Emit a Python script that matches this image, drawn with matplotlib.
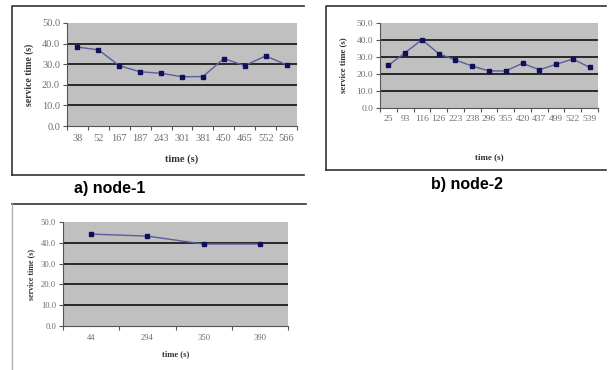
import matplotlib.pyplot as plt
from matplotlib.lines import Line2D

W, H = 616, 370

node1_t = ["38", "52", "167", "187", "243", "301", "381", "450", "465", "552", "566"]
node1_s = [38.3, 37.0, 29.3, 26.3, 25.6, 23.9, 24.0, 32.7, 29.3, 34.0, 29.7]

node2_t = ["25", "93", "116", "126", "223", "238", "296", "355", "420", "437", "499", "522", "539"]
node2_s = [25.1, 32.5, 40.2, 32.0, 28.2, 24.7, 21.8, 21.8, 26.3, 22.5, 25.7, 28.8, 23.9]

node3_t = ["44", "294", "350", "390"]
node3_s = [44.2, 43.2, 39.4, 39.4]

yticks = [0, 10, 20, 30, 40, 50]

serif = "Liberation Serif"
tick_col = "#6e6e6e"


def box(l, t, r, b):
    return [l / W, 1 - b / H, (r - l) / W, (b - t) / H]


def fline(fig, xs, ys, color="#333333", lw=1.2):
    fig.add_artist(Line2D([x / W for x in xs], [1 - y / H for y in ys],
                          color=color, lw=lw))


def panel(fig, rect, labels, values, fs, lpad):
    ax = fig.add_axes(rect)
    n = len(labels)
    ax.set_facecolor("#c0c0c0")
    ax.plot(range(n), values, color="#5c5ca0", lw=1.0, marker="s",
            markersize=2.2, markerfacecolor="#10105a", markeredgecolor="#10105a",
            zorder=3)
    ax.set_xlim(-0.5, n - 0.5)
    ax.set_ylim(0, 50)
    ax.set_yticks(yticks)
    ax.set_yticklabels(["%.1f" % v for v in yticks], fontfamily=serif,
                       fontsize=fs, color=tick_col)
    for v in yticks[1:-1]:
        ax.axhline(v, color="#282828", lw=1.4, zorder=2)
    ax.set_xticks(range(n))
    ax.set_xticklabels(labels, fontfamily=serif, fontsize=fs, color=tick_col)
    ax.set_xticks([k - 0.5 for k in range(n + 1)], minor=True)
    ax.tick_params(axis="x", which="major", length=0, pad=6)
    ax.tick_params(axis="x", which="minor", length=3, direction="out",
                   color="#555555", width=0.8)
    ax.tick_params(axis="y", length=3, direction="out", color="#555555",
                   width=0.8, pad=2)
    for s in ["top", "right"]:
        ax.spines[s].set_visible(False)
    for s in ["left", "bottom"]:
        ax.spines[s].set_color("#555555")
        ax.spines[s].set_linewidth(0.8)
    ax.set_ylabel("service time (s)", fontfamily=serif, fontweight="bold",
                  fontsize=fs - 0.5, color="#333333", labelpad=lpad)
    return ax


fig = plt.figure(figsize=(W / 100, H / 100), dpi=100)

# panel frames
fline(fig, [12, 12, 304], [175, 6, 6])
fline(fig, [12, 304], [175, 175])
fline(fig, [326, 326, 606], [170, 6, 6])
fline(fig, [326, 606], [170, 170])
fline(fig, [12, 306], [204, 204])
fline(fig, [12, 12], [204, 370], color="#b0b0b0", lw=1.0)

ax1 = panel(fig, box(67, 23, 297, 126), node1_t, node1_s, 7.5, 6)
ax1.set_xlabel("time (s)", fontfamily=serif, fontweight="bold", fontsize=7.5,
               color="#333333", labelpad=8)

ax2 = panel(fig, box(380, 23, 598, 108), node2_t, node2_s, 6.8, 7)
ax2.tick_params(axis="x", which="major", pad=5)
ax2.set_xlabel("time (s)", fontfamily=serif, fontweight="bold", fontsize=6.5,
               color="#333333", labelpad=22)

ax3 = panel(fig, box(63, 222, 288, 326), node3_t, node3_s, 6.2, 4)
ax3.set_xlabel("time (s)", fontfamily=serif, fontweight="bold", fontsize=6.2,
               color="#333333", labelpad=6)

fig.text(110 / W, 1 - 188 / H, "a) node-1", ha="center", va="center",
         fontfamily="Liberation Sans", fontweight="bold", fontsize=11.5)
fig.text(467 / W, 1 - 184 / H, "b) node-2", ha="center", va="center",
         fontfamily="Liberation Sans", fontweight="bold", fontsize=11.5)

fig.savefig("out.png", dpi=100)
